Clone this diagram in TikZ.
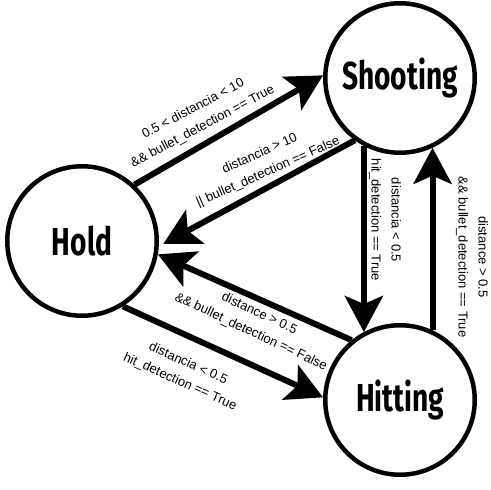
\documentclass[tikz,border=0pt]{standalone}
\usepackage{fontspec}
\setsansfont{Liberation Sans}
\newfontfamily\statefont[FakeStretch=0.72]{Fira Sans}
\usetikzlibrary{arrows.meta}
\begin{document}
\begin{tikzpicture}[x=1pt, y=-1pt,
  state/.style={draw, circle, line width=4.5pt, minimum size=149.5pt, inner sep=0pt,
    font=\statefont\bfseries\fontsize{39}{39}\selectfont},
  trans/.style={line width=6pt, -{Stealth[length=36pt, width=38pt, inset=8pt]}},
  cond/.style={align=center, inner sep=0pt, font=\sffamily\fontsize{13}{20}\selectfont}]
\useasboundingbox (0,0) rectangle (491,490);
\node[state] (hold) at (82,241) {Hold};
\node[state] (shoot) at (400,78) {Shooting};
\node[state] (hit) at (400,400) {Hitting};
\draw[trans] (hold.47) -- (shoot.178);
\draw[trans, shorten >=5pt] (shoot.234) -- (hold.356);
\draw[trans] (shoot.242) -- (hit.118);
\draw[trans] (hit.65) -- (shoot.295);
\draw[trans] (hit.129) -- (hold.350);
\draw[trans] (hold.302) -- (hit.178);
\node[cond, rotate=28] (c1) at (198,118) {0.5 < distancia < 10\\\&\& bullet\_detection == True};
\node[cond, rotate=24] (c2) at (264,163) {distancia > 10\\|| bullet\_detection == False};
\node[cond, rotate=-90] (c3) at (385,220) {distancia < 0.5\\hit\_detection == True};
\node[cond, rotate=-90] (c4) at (472,257) {distance > 0.5\\\&\& bullet\_detection == True};
\node[cond, rotate=-25] (c5) at (255,323) {distance > 0.5\\\&\& bullet\_detection == False};
\node[cond, rotate=-24] (c6) at (184,373) {distancia < 0.5\\hit\_detection == True};
\end{tikzpicture}
\end{document}
